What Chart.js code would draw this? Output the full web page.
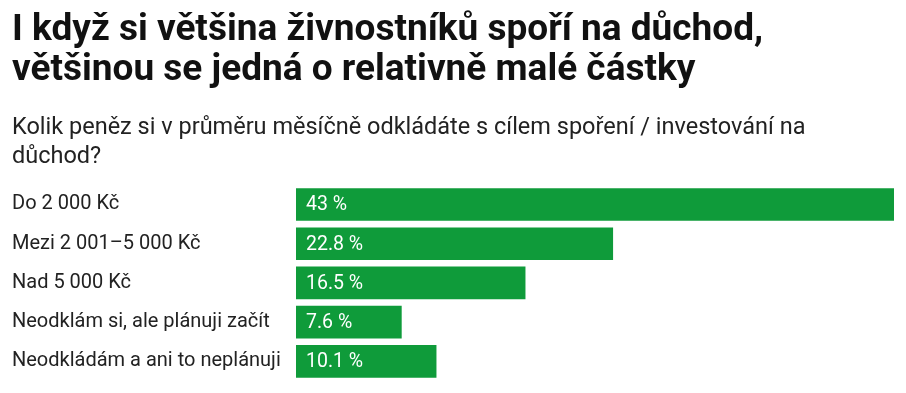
<!DOCTYPE html>
<html>
<head>
<meta charset="utf-8">
<script src="https://cdn.jsdelivr.net/npm/chart.js@4"></script>
<style>
  html, body { margin: 0; padding: 0; background: #ffffff; }
  #wrap { width: 906px; height: 393px; position: relative; }
</style>
</head>
<body>
<div id="wrap"><canvas id="c" width="906" height="393"></canvas></div>
<script>
const titleLines = ["I když si většina živnostníků spoří na důchod,", "většinou se jedná o relativně malé částky"];
const subtitleLines = ["Kolik peněz si v průměru měsíčně odkládáte s cílem spoření / investování na", "důchod?"];
const categories = ["Do 2 000 Kč", "Mezi 2 001–5 000 Kč", "Nad 5 000 Kč", "Neodklám si, ale plánuji začít", "Neodkládám a ani to neplánuji"];
const values = [43, 22.8, 16.5, 7.6, 10.1];
const valueSuffix = " %";

const barColor = "#0f9b3a";

const valueLabels = {
  id: "valueLabels",
  afterDatasetsDraw(chart) {
    const ctx = chart.ctx;
    const meta = chart.getDatasetMeta(0);
    ctx.save();
    ctx.font = "19.5px Roboto";
    ctx.fillStyle = "#ffffff";
    ctx.textAlign = "left";
    ctx.textBaseline = "middle";
    meta.data.forEach((bar, i) => {
      const left = Math.min(bar.base, bar.x);
      ctx.fillText(String(values[i]) + valueSuffix, left + 10, bar.y + 1);
    });
    ctx.restore();
  }
};

new Chart(document.getElementById("c"), {
  type: "bar",
  data: {
    labels: categories,
    datasets: [{
      data: values,
      backgroundColor: barColor,
      borderWidth: 0,
      barPercentage: 0.83,
      categoryPercentage: 1.0
    }]
  },
  options: {
    indexAxis: "y",
    responsive: false,
    animation: false,
    devicePixelRatio: 1,
    layout: { padding: { left: 12, right: 12, top: 0, bottom: 7 } },
    plugins: {
      legend: { display: false },
      tooltip: { enabled: false },
      title: {
        display: true,
        text: titleLines,
        align: "start",
        color: "#111111",
        font: { family: "Roboto", size: 37, weight: "bold", lineHeight: 1.1 },
        padding: { top: 10, bottom: 12 }
      },
      subtitle: {
        display: true,
        text: subtitleLines,
        align: "start",
        color: "#222222",
        font: { family: "Roboto", size: 23.5, weight: "normal", lineHeight: 1.2 },
        padding: { top: 11, bottom: 14 }
      }
    },
    scales: {
      x: {
        display: false,
        min: 0,
        max: 43
      },
      y: {
        grid: { display: false },
        border: { display: false },
        ticks: {
          crossAlign: "far",
          color: "#222222",
          padding: 0,
          font: { family: "Roboto", size: 20 }
        },
        afterFit(scale) { scale.width = 284; }
      }
    }
  },
  plugins: [valueLabels]
});
</script>
</body>
</html>
